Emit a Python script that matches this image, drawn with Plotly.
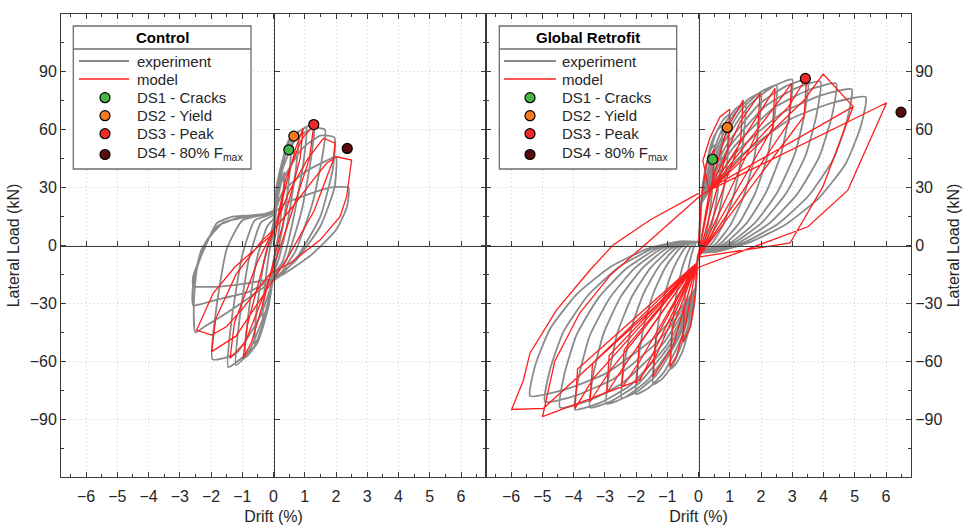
import plotly.graph_objects as go

# ---------------------------------------------------------------------------
# Hysteresis data: each cycle is a list of (drift %, lateral load kN) points
# ---------------------------------------------------------------------------
CONTROL_EXPERIMENT = [
    [(0, 0), (0.1, 20), (0.25, 33), (0.35, 38), (0.3, 25), (0.15, 5), (0, -8), (-0.1, -22),
     (-0.25, -34), (-0.35, -38), (-0.3, -25), (-0.15, -5), (0, 8)],
    [(0.1, 24), (0.3, 40), (0.55, 50), (0.5, 35), (0.3, 10), (0.05, -10), (-0.1, -26),
     (-0.35, -43), (-0.6, -51), (-0.55, -35), (-0.3, -8), (0, 12)],
    [(0.1, 27), (0.4, 48), (0.8, 58), (0.72, 40), (0.45, 12), (0.15, -8), (0, -15), (-0.15, -31),
     (-0.5, -50), (-0.9, -58), (-0.82, -38), (-0.55, -8), (-0.2, 10), (0, 14)],
    [(0.1, 29), (0.45, 52), (0.8, 59), (1.05, 61), (0.95, 42), (0.65, 15), (0.3, -8), (0, -16),
     (-0.2, -33), (-0.6, -52), (-1.2, -62), (-1.1, -40), (-0.8, -8), (-0.4, 12), (0, 16)],
    [(0.1, 31), (0.5, 55), (1.0, 61), (1.3, 63), (1.2, 45), (0.9, 18), (0.4, -8), (0, -17),
     (-0.25, -34), (-0.8, -55), (-1.45, -63), (-1.35, -40), (-1.0, -5), (-0.6, 13), (0, 17)],
    [(0.15, 33), (0.7, 55), (1.3, 61), (1.65, 60), (1.55, 45), (1.25, 22), (0.7, -3), (0.2, -15),
     (0, -18), (-0.4, -36), (-1.2, -56), (-1.95, -59), (-1.85, -35), (-1.5, -2), (-1.0, 13),
     (-0.3, 16), (0, 18)],
    [(0.2, 31), (0.9, 50), (1.5, 57), (1.95, 56), (1.9, 40), (1.5, 15), (0.8, -5), (0.2, -16),
     (0, -18), (-0.6, -25), (-1.5, -35), (-2.2, -42), (-2.5, -45), (-2.55, -30), (-2.45, -12),
     (-2.1, 3), (-1.6, 12), (-0.8, 15), (0, 17)],
    [(0.3, 28), (1.0, 38), (1.7, 44), (2.0, 46), (1.95, 30), (1.5, 10), (0.7, -8), (0, -17),
     (-0.8, -24), (-1.8, -28), (-2.57, -31), (-2.57, -20), (-2.3, -2), (-1.8, 10), (-1.0, 15),
     (0, 17)],
    [(0.4, 22), (1.2, 27), (1.8, 30), (2.4, 30), (2.35, 20), (2.0, 8), (1.2, -5), (0.3, -15),
     (0, -17), (-1.0, -20), (-1.9, -21.4), (-2.57, -21), (-2.57, -16), (-2.14, 1), (-1.82, 11.5),
     (-1.3, 15), (-0.43, 15.8), (0, 18)],
]

CONTROL_MODEL = [
    [(0, 0), (0.3, 25), (0.7, 50), (0.95, 60.8), (0.85, 45), (0.2, 5), (-0.3, -28), (-0.7, -50),
     (-0.97, -58.5), (-0.85, -42), (-0.2, -2), (0.1, 12)],
    [(0.4, 35), (0.9, 55), (1.29, 62.5), (1.15, 45), (0.4, 8), (-0.3, -25), (-0.9, -50),
     (-1.39, -58.5), (-1.25, -40), (-0.5, -8), (0, 8)],
    [(0.5, 28), (1.1, 45), (1.6, 55.6), (1.97, 53), (1.91, 44.3), (1.3, 18), (0.5, -5),
     (-0.3, -25), (-1.2, -47), (-1.98, -55), (-1.85, -38), (-1.2, -15), (-0.4, 2), (0, 8)],
    [(0.53, 18.4), (1.27, 34), (1.7, 42.6), (2.02, 46), (2.5, 44.3), (2.34, 25.3), (2.13, 15),
     (1.49, 2.8), (0.53, -9.2), (-0.1, -14.4), (-1.0, -33), (-1.5, -42), (-1.98, -46.4),
     (-2.46, -43.8), (-1.93, -24.8), (-1.23, -11), (-0.54, -1.5), (0, 6.3)],
]

RETROFIT_EXPERIMENT = [
    [(0, 0), (0.05, 15), (0.13, 31), (0.28, 44), (0.4, 50), (0.5, 52), (0.49, 42), (0.44, 29),
     (0.36, 17), (0.26, 7), (0.15, 1), (0.06, -3), (0, -4), (-0.05, -15), (-0.13, -30),
     (-0.28, -42.5), (-0.4, -48), (-0.5, -50), (-0.49, -40), (-0.44, -27.5), (-0.36, -16),
     (-0.26, -7), (-0.15, -1), (-0.06, 2), (0, 2)],
    [(0.06, 18), (0.19, 37), (0.41, 53), (0.6, 59.5), (0.75, 62), (0.73, 49.6), (0.66, 34),
     (0.54, 20), (0.39, 8.7), (0.23, 1.2), (0.09, -3), (0, -4), (-0.07, -18), (-0.23, -38.4),
     (-0.5, -54.4), (-0.72, -61.4), (-0.9, -64), (-0.87, -51.2), (-0.79, -35.2), (-0.65, -20.5),
     (-0.47, -9), (-0.27, -1.3), (-0.11, 2), (0, 2)],
    [(0.08, 20), (0.25, 40.8), (0.55, 57.8), (0.8, 65.3), (1.0, 68), (0.97, 54.4), (0.88, 37.4),
     (0.72, 21.8), (0.52, 9.5), (0.3, 1.4), (0.12, -3), (0, -4), (-0.1, -22), (-0.36, -43.2),
     (-0.8, -61.2), (-1.16, -69.1), (-1.45, -72), (-1.41, -57.6), (-1.28, -39.6), (-1.04, -23),
     (-0.75, -10.1), (-0.44, -1.4), (-0.17, 2), (0, 2)],
    [(0.1, 22), (0.38, 44.4), (0.83, 62.9), (1.2, 71), (1.5, 74), (1.46, 59.2), (1.32, 40.7),
     (1.08, 23.7), (0.78, 10.4), (0.45, 1.5), (0.18, -3), (0, -4), (-0.1, -22), (-0.5, -46.2),
     (-1.1, -65.5), (-1.6, -73.9), (-2.0, -77), (-1.94, -61.6), (-1.76, -42.4), (-1.44, -24.6),
     (-1.04, -10.8), (-0.6, -1.5), (-0.24, 2), (0, 2)],
    [(0.1, 22), (0.5, 47.4), (1.1, 67.2), (1.6, 75.8), (2.0, 79), (1.94, 63.2), (1.76, 43.5),
     (1.44, 25.3), (1.04, 11.1), (0.6, 1.6), (0.24, -3), (0, -4), (-0.1, -22), (-0.62, -47.4),
     (-1.35, -67.2), (-1.97, -75.8), (-2.46, -79), (-2.39, -63.2), (-2.16, -43.5), (-1.77, -25.3),
     (-1.28, -11.1), (-0.74, -1.6), (-0.3, 2), (0, 2)],
    [(0.1, 22), (0.63, 49.8), (1.38, 70.6), (2.0, 79.7), (2.5, 83), (2.43, 66.4), (2.2, 45.7),
     (1.8, 26.6), (1.3, 11.6), (0.75, 1.7), (0.3, -3), (0, -4), (-0.1, -22), (-0.74, -49.2),
     (-1.62, -69.7), (-2.35, -78.7), (-2.94, -82), (-2.85, -65.6), (-2.59, -45.1), (-2.12, -26.2),
     (-1.53, -11.5), (-0.88, -1.6), (-0.35, 2), (0, 2)],
    [(0.1, 22), (0.75, 51.6), (1.65, 73.1), (2.4, 82.6), (3.0, 86), (2.91, 68.8), (2.64, 47.3),
     (2.16, 27.5), (1.56, 12), (0.9, 1.7), (0.36, -3), (0, -4), (-0.1, -22), (-0.87, -50.4),
     (-1.91, -71.4), (-2.78, -80.6), (-3.47, -84), (-3.37, -67.2), (-3.05, -46.2), (-2.5, -26.9),
     (-1.8, -11.8), (-1.04, -1.7), (-0.42, 2), (0, 2)],
    [(0.1, 22), (0.88, 51.6), (1.93, 73.1), (2.8, 82.6), (3.5, 86), (3.4, 68.8), (3.08, 47.3),
     (2.52, 27.5), (1.82, 12), (1.05, 1.7), (0.42, -3), (0, -4), (-0.1, -22), (-0.99, -51),
     (-2.17, -72.3), (-3.16, -81.6), (-3.95, -85), (-3.83, -68), (-3.48, -46.8), (-2.84, -27.2),
     (-2.05, -11.9), (-1.19, -1.7), (-0.47, 2), (0, 2)],
    [(0.1, 22), (0.98, 51), (2.15, 72.3), (3.12, 81.6), (3.9, 85), (3.78, 68), (3.43, 46.8),
     (2.81, 27.2), (2.03, 11.9), (1.17, 1.7), (0.47, -3), (0, -4), (-0.1, -22), (-1.11, -50.4),
     (-2.44, -71.4), (-3.54, -80.6), (-4.43, -84), (-4.3, -67.2), (-3.9, -46.2), (-3.19, -26.9),
     (-2.3, -11.8), (-1.33, -1.7), (-0.53, 2), (0, 2)],
    [(0.1, 22), (1.1, 50.4), (2.42, 71.4), (3.52, 80.6), (4.4, 84), (4.27, 67.2), (3.87, 46.2),
     (3.17, 26.9), (2.29, 11.8), (1.32, 1.7), (0.53, -3), (0, -4), (-0.1, -22), (-1.23, -48.6),
     (-2.7, -68.9), (-3.93, -77.8), (-4.91, -81), (-4.76, -64.8), (-4.32, -44.6), (-3.54, -25.9),
     (-2.55, -11.3), (-1.47, -1.6), (-0.59, 2), (0, 2)],
    [(0.1, 22), (1.23, 48.6), (2.7, 68.9), (3.92, 77.8), (4.9, 81), (4.75, 64.8), (4.31, 44.6),
     (3.53, 25.9), (2.55, 11.3), (1.47, 1.6), (0.59, -3), (0, -4), (-0.1, -22), (-1.35, -46.8),
     (-2.96, -66.3), (-4.31, -74.9), (-5.39, -78), (-5.23, -62.4), (-4.74, -42.9), (-3.88, -25),
     (-2.8, -10.9), (-1.62, -1.6), (-0.65, 2), (0, 2)],
    [(0.1, 22), (1.34, 46.2), (2.94, 65.5), (4.28, 73.9), (5.35, 77), (5.19, 61.6), (4.71, 42.4),
     (3.85, 24.6), (2.78, 10.8), (1.61, 1.5), (0.64, -3), (0, -4)],
]

RETROFIT_MODEL = [
    [(0, 0), (0.1, 25), (0.25, 42), (0.5, 50), (0.45, 32), (0, -6), (-0.05, -9), (-0.1, -25),
     (-0.25, -42), (-0.5, -50), (-0.45, -32), (-0.05, -9), (0.35, 28)],
    [(0.14, 44), (0.37, 56), (0.69, 66.8), (1.0, 70.6), (0.93, 50), (0, -6), (-0.05, -9),
     (-0.4, -40), (-0.7, -57), (-0.91, -62.8), (-0.84, -43), (-0.05, -9), (0.35, 28)],
    [(0.9, 60), (1.43, 75.4), (1.35, 55), (0, -6), (-0.05, -9), (-0.81, -52), (-1.45, -68),
     (-1.37, -48), (-0.05, -9), (0.35, 28)],
    [(1.33, 64), (1.97, 78.9), (1.89, 59), (0, -6), (-0.05, -9), (-1.35, -57), (-1.98, -71.4),
     (-1.9, -51), (-0.05, -9), (0.35, 28)],
    [(1.87, 67), (2.45, 81.5), (2.37, 61), (0, -6), (-0.05, -9), (-1.88, -60), (-2.46, -74),
     (-2.38, -54), (-0.05, -9), (0.35, 28)],
    [(2.35, 70), (2.98, 84), (2.9, 64), (0, -6), (-0.05, -9), (-2.36, -62), (-2.94, -76.6),
     (-2.86, -57), (-0.05, -9), (0.35, 28)],
    [(2.88, 72), (3.46, 87.2), (3.38, 67), (0, -6), (-0.05, -9), (-2.84, -65), (-3.47, -81),
     (-3.39, -61), (-0.05, -9), (0.35, 28)],
    [(3.36, 75), (3.99, 88.9), (4.95, 72), (3.98, 30.5), (2.93, 1.3), (0, -6), (-0.05, -9),
     (-3.37, -69), (-3.95, -84.4), (-3.87, -64), (-0.05, -9), (0.63, 32)],
    [(4.95, 72), (3.98, 30.5), (2.93, 1.3), (0, -6), (-0.05, -9), (-1.87, -69.7),
     (-4.99, -88.7), (-4.6, -60), (-3.8, -35), (-2.8, -15), (-1.6, 2), (0, 25), (0.37, 28.8)],
    [(6.02, 74), (4.78, 28.7), (3.5, 9.7), (0.05, -11), (-0.2, -14), (-4.96, -84.4),
     (-5.98, -85), (-5.6, -69.7), (-5.39, -55.7), (-4.54, -33.4), (-3.47, -12.7),
     (-2.73, 0.3), (-1.55, 13.2), (0, 27)],
]

# Damage-state points (drift %, load kN)
CONTROL_DS_DRIFT = [0.49, 0.65, 1.29, 2.36]
CONTROL_DS_LOAD = [49.6, 56.7, 62.7, 50.3]
RETROFIT_DS_DRIFT = [0.45, 0.92, 3.42, 6.48]
RETROFIT_DS_LOAD = [44.7, 61.2, 86.6, 69.1]

DS_NAMES = ["DS1 - Cracks", "DS2 - Yield", "DS3 - Peak", "DS4 - 80% F<sub>max</sub>"]
DS_COLORS = ["#45b649", "#f47b20", "#ee2a2a", "#5a0c0c"]

X_TICKS = [-6, -5, -4, -3, -2, -1, 0, 1, 2, 3, 4, 5, 6]
Y_TICKS = [-90, -60, -30, 0, 30, 60, 90]
Y_MINOR = [-105, -75, -45, -15, 15, 45, 75, 105]

FONT = "Liberation Sans, Arial, sans-serif"
TEXT = "#262626"
AXIS = "#3a3a3a"
GRAY = "#8a8a8a"
RED = "#ff1e1e"
BOX = "#6e6e6e"

W, H = 969, 525
ML, MR, MT, MB = 61, 58, 14, 48
PW, PH = W - ML - MR, H - MT - MB


def flatten(cycles):
    xs, ys = [], []
    for cycle in cycles:
        for d, f in cycle:
            xs.append(d)
            ys.append(f)
    return xs, ys


def px(x):
    return (x - ML) / PW


def py(y):
    return (H - MB - y) / PH


fig = go.Figure()

panels = [
    ("x", "y", CONTROL_EXPERIMENT, CONTROL_MODEL, CONTROL_DS_DRIFT, CONTROL_DS_LOAD),
    ("x2", "y2", RETROFIT_EXPERIMENT, RETROFIT_MODEL, RETROFIT_DS_DRIFT, RETROFIT_DS_LOAD),
]
for xa, ya, exp, mod, ds_d, ds_f in panels:
    ex, ey = flatten(exp)
    fig.add_trace(go.Scatter(x=ex, y=ey, mode="lines", name="experiment", showlegend=False,
                             line=dict(color=GRAY, width=1.8, shape="spline", smoothing=0.5),
                             xaxis=xa, yaxis=ya, hoverinfo="skip"))
    mx, my = flatten(mod)
    fig.add_trace(go.Scatter(x=mx, y=my, mode="lines", name="model", showlegend=False,
                             line=dict(color=RED, width=1.3),
                             xaxis=xa, yaxis=ya, hoverinfo="skip"))
    for i in range(4):
        fig.add_trace(go.Scatter(x=[ds_d[i]], y=[ds_f[i]], mode="markers", name=DS_NAMES[i],
                                 showlegend=False,
                                 marker=dict(size=10, color=DS_COLORS[i],
                                             line=dict(color="black", width=1.2)),
                                 xaxis=xa, yaxis=ya))

# empty traces so the origin axes are drawn
fig.add_trace(go.Scatter(x=[None], y=[None], xaxis="x3", yaxis="y3", showlegend=False))
fig.add_trace(go.Scatter(x=[None], y=[None], xaxis="x4", yaxis="y4", showlegend=False))

# ---------------------------------------------------------------------------
# Boxed legends with a title row (drawn in paper coordinates)
# ---------------------------------------------------------------------------
shapes, annotations = [], []
legends = [
    # title, box left/right (px), line sample start/end, marker x, text x
    ("Control", 73.3, 251.0, 79, 129, 105, 135),
    ("Global Retrofit", 499.3, 676.7, 504, 556, 530, 560),
]
BOX_TOP, BOX_BOTTOM, SEP_Y = 26, 169, 49
ROWS = [61, 79, 97.7, 115.7, 133.7, 153]
for title, bx0, bx1, lx0, lx1, mxp, tx in legends:
    shapes.append(dict(type="rect", xref="paper", yref="paper", x0=px(bx0), x1=px(bx1),
                       y0=py(BOX_BOTTOM), y1=py(BOX_TOP), fillcolor="white",
                       line=dict(color=BOX, width=1.3), layer="above"))
    shapes.append(dict(type="line", xref="paper", yref="paper", x0=px(bx0), x1=px(bx1),
                       y0=py(SEP_Y), y1=py(SEP_Y), line=dict(color=BOX, width=1.3),
                       layer="above"))
    annotations.append(dict(text=f"<b>{title}</b>", xref="paper", yref="paper",
                            x=px((bx0 + bx1) / 2), y=py(38), xanchor="center",
                            yanchor="middle", showarrow=False,
                            font=dict(family=FONT, size=15, color="black")))
    for row, (label, color) in enumerate([("experiment", GRAY), ("model", RED)]):
        shapes.append(dict(type="line", xref="paper", yref="paper", x0=px(lx0), x1=px(lx1),
                           y0=py(ROWS[row]), y1=py(ROWS[row]),
                           line=dict(color=color, width=1.8 if row == 0 else 1.3),
                           layer="above"))
        annotations.append(dict(text=label, xref="paper", yref="paper", x=px(tx),
                                y=py(ROWS[row]), xanchor="left", yanchor="middle",
                                showarrow=False, font=dict(family=FONT, size=15, color=TEXT)))
    for i in range(4):
        yrow = ROWS[2 + i]
        mark_y = yrow + (1.5 if i == 3 else 0)
        shapes.append(dict(type="circle", xref="paper", yref="paper",
                           xsizemode="pixel", ysizemode="pixel",
                           xanchor=px(mxp), yanchor=py(mark_y),
                           x0=-5, x1=5, y0=-5, y1=5, fillcolor=DS_COLORS[i],
                           line=dict(color="black", width=1.2), layer="above"))
        annotations.append(dict(text=DS_NAMES[i], xref="paper", yref="paper", x=px(tx),
                                y=py(yrow), xanchor="left", yanchor="middle",
                                showarrow=False, font=dict(family=FONT, size=15, color=TEXT)))

tickfont = dict(family=FONT, size=16, color=TEXT)
titlefont = dict(family=FONT, size=16, color=TEXT)

base = dict(showline=True, linecolor=AXIS, linewidth=1, mirror="allticks",
            ticks="inside", ticklen=5, tickcolor=AXIS, tickwidth=1,
            showgrid=True, gridcolor="#cfcfcf", griddash="1px,3px", gridwidth=1,
            zeroline=False, tickfont=tickfont, automargin=False)

xbase = dict(base, range=[-6.8, 6.8], tickvals=X_TICKS, ticklabelstandoff=5,
             minor=dict(ticks="inside", ticklen=3, dtick=0.5, tick0=0, tickcolor=AXIS,
                        showgrid=False),
             title=dict(text="Drift (%)", font=titlefont, standoff=8))
ybase = dict(base, range=[-120, 120], tickvals=Y_TICKS,
             minor=dict(ticks="inside", ticklen=3, tickvals=Y_MINOR, tickcolor=AXIS,
                        showgrid=False),
             title=dict(text="Lateral Load (kN)", font=titlefont, standoff=6))

origin = dict(showline=True, linecolor=AXIS, linewidth=1, ticks="inside", ticklen=5,
              tickcolor=AXIS, showticklabels=False, showgrid=False, zeroline=False,
              automargin=False)

fig.update_layout(
    width=W, height=H,
    margin=dict(l=ML, r=MR, t=MT, b=MB, autoexpand=False),
    paper_bgcolor="white", plot_bgcolor="white",
    font=dict(family=FONT, color=TEXT),
    showlegend=False,
    xaxis=dict(xbase, domain=[0, 0.5], anchor="y"),
    yaxis=dict(ybase, domain=[0, 1], anchor="x"),
    xaxis2=dict(xbase, domain=[0.5, 1], anchor="y2"),
    yaxis2=dict(ybase, domain=[0, 1], anchor="x2", side="right"),
    xaxis3=dict(origin, range=[-6.8, 6.8], tickvals=X_TICKS, overlaying="x",
                anchor="free", position=0.5, domain=[0, 0.5]),
    yaxis3=dict(origin, range=[-120, 120], tickvals=Y_TICKS, overlaying="y",
                anchor="free", position=0.25),
    xaxis4=dict(origin, range=[-6.8, 6.8], tickvals=X_TICKS, overlaying="x2",
                anchor="free", position=0.5, domain=[0.5, 1]),
    yaxis4=dict(origin, range=[-120, 120], tickvals=Y_TICKS, overlaying="y2",
                anchor="free", position=0.75),
    shapes=shapes,
    annotations=annotations,
)

fig.write_html("out.html")
